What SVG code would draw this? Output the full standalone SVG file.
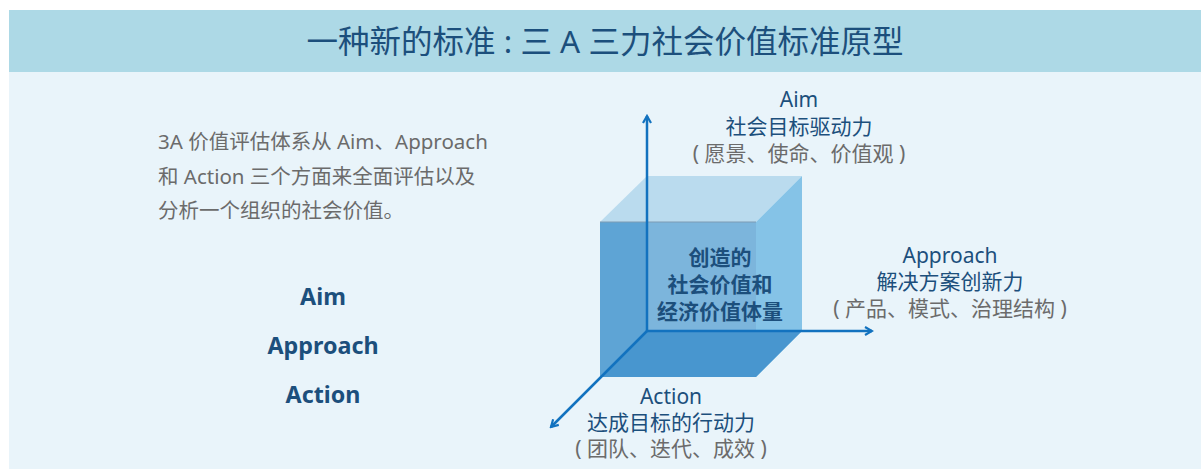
<svg xmlns="http://www.w3.org/2000/svg" width="1201" height="469" viewBox="0 0 1201 469">
<defs>
<style>
.t{font-family:"Noto Sans","Noto Sans CJK SC",sans-serif;}
.dk{fill:#1C4F7C;}
.gr{fill:#6B6B6B;}
.ax{stroke:#1272BF;stroke-width:2.5;fill:none;}
</style>
<marker id="ah" viewBox="0 0 10 10" refX="8" refY="5" markerWidth="10" markerHeight="10" markerUnits="userSpaceOnUse" orient="auto">
<path d="M1,1 L8,5 L1,9" fill="none" stroke="#1272BF" stroke-width="2.2"/>
</marker>
</defs>
<rect x="0" y="0" width="1201" height="469" fill="#FFFFFF"/>
<rect x="9" y="10" width="1192" height="459" fill="#E9F4FA"/>
<rect x="9" y="10" width="1192" height="62" fill="#ADD9E6"/>
<text class="t dk" x="605" y="53" font-size="31.5" text-anchor="middle">一种新的标准 : 三 A 三力社会价值标准原型</text>

<g id="intro">
<text class="t gr" x="158" y="149" font-size="20.5">3A 价值评估体系从 Aim、Approach</text>
<text class="t gr" x="158" y="184" font-size="20.5">和 Action 三个方面来全面评估以及</text>
<text class="t gr" x="158" y="218" font-size="20.5">分析一个组织的社会价值。</text>
</g>
<g id="list">
<text class="t dk" x="323" y="305" font-size="23.3" font-weight="bold" text-anchor="middle">Aim</text>
<text class="t dk" x="323" y="354" font-size="23.3" font-weight="bold" text-anchor="middle">Approach</text>
<text class="t dk" x="323" y="403" font-size="23.3" font-weight="bold" text-anchor="middle">Action</text>
</g>

<g id="cube">
<polygon points="600,222 647,176 802,176 756,222" fill="#BADBEE"/>
<polygon points="756,222 802,176 802,331 756,377" fill="#85C3E7"/>
<rect x="600" y="222" width="156" height="155" fill="#5EA4D5"/>
<rect x="647" y="222" width="109" height="109" fill="#7CB5DC"/>
<polygon points="600,377 647,331 802,331 756,377" fill="#4896CF"/>
<line x1="600" y1="222" x2="756" y2="222" stroke="#7D9CB3" stroke-width="1.2"/>
<text class="t dk" x="720" y="265" font-size="21" font-weight="bold" text-anchor="middle">创造的</text>
<text class="t dk" x="720" y="292" font-size="21" font-weight="bold" text-anchor="middle">社会价值和</text>
<text class="t dk" x="720" y="319" font-size="21" font-weight="bold" text-anchor="middle">经济价值体量</text>
</g>

<g id="connectors">
<line class="ax" x1="647" y1="332" x2="647" y2="116" marker-end="url(#ah)"/>
<line class="ax" x1="646" y1="331" x2="872" y2="331" marker-end="url(#ah)"/>
<line class="ax" x1="648" y1="330" x2="551" y2="427" marker-end="url(#ah)"/>
</g>

<g id="aim">
<text class="t dk" x="799" y="107" font-size="21" text-anchor="middle">Aim</text>
<text class="t dk" x="799" y="134" font-size="21" text-anchor="middle">社会目标驱动力</text>
<text class="t gr" x="799" y="161" font-size="21" text-anchor="middle">( 愿景、使命、价值观 )</text>
</g>
<g id="approach">
<text class="t dk" x="950" y="263" font-size="21" text-anchor="middle">Approach</text>
<text class="t dk" x="950" y="289" font-size="21" text-anchor="middle">解决方案创新力</text>
<text class="t gr" x="950" y="316" font-size="21" text-anchor="middle">( 产品、模式、治理结构 )</text>
</g>
<g id="action">
<text class="t dk" x="671" y="404" font-size="21" text-anchor="middle">Action</text>
<text class="t dk" x="671" y="430" font-size="21" text-anchor="middle">达成目标的行动力</text>
<text class="t gr" x="671" y="456" font-size="21" text-anchor="middle">( 团队、迭代、成效 )</text>
</g>
</svg>
